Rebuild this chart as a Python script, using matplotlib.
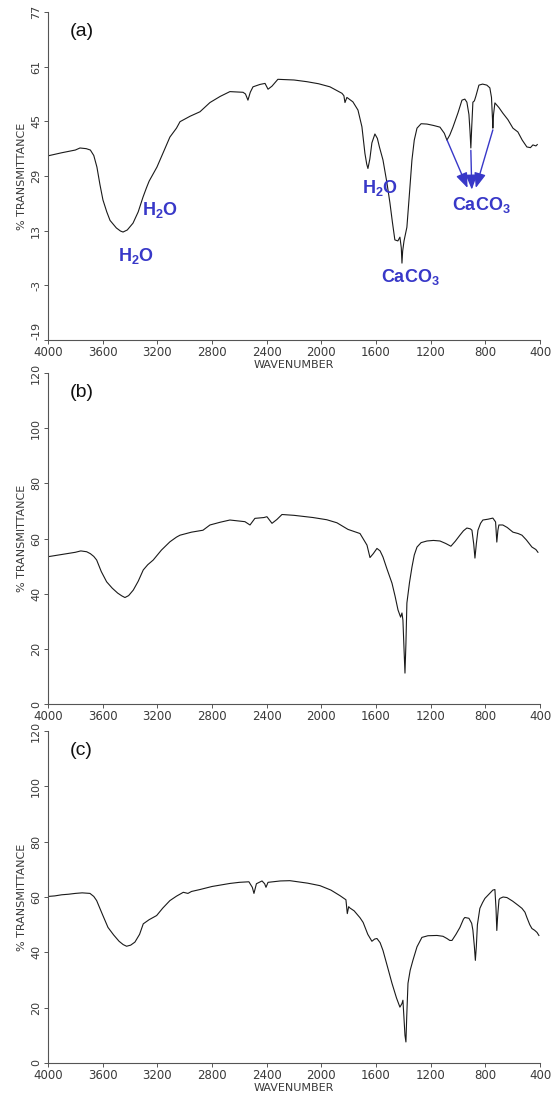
import matplotlib
matplotlib.use("Agg")
import matplotlib.pyplot as plt

# ---------------- data ----------------
wn_a = [4000, 3900, 3800, 3766, 3720, 3690, 3665, 3642, 3620, 3598, 3570, 3546, 3500, 3470, 3451,
        3420, 3378, 3340, 3305, 3280, 3260, 3203, 3150, 3108, 3060, 3034, 2960, 2888, 2815, 2740,
        2669, 2573, 2555, 2537, 2520, 2500, 2449, 2412, 2390, 2361, 2318, 2200, 2105, 2020, 1937,
        1849, 1835, 1827, 1813, 1769, 1732, 1703, 1681, 1668, 1659, 1645, 1630, 1608, 1590, 1575,
        1549, 1520, 1498, 1480, 1462, 1440, 1425, 1415, 1410, 1405, 1395, 1374, 1355, 1337, 1320,
        1300, 1270, 1227, 1180, 1132, 1100, 1081, 1060, 1037, 1000, 971, 950, 935, 920, 912,
        906, 900, 891, 880, 869, 847, 820, 789, 767, 755, 748, 745, 740, 730, 700,
        672, 635, 598, 562, 530, 496, 470, 452, 430, 420]
t_a = [34.9, 35.8, 36.6, 37.2, 37.0, 36.6, 35.0, 31.6, 26.5, 22.0, 18.5, 16.0, 13.8, 12.9, 12.6,
       13.2, 15.2, 18.5, 22.8, 25.5, 27.5, 31.6, 36.5, 40.4, 43.0, 44.9, 46.5, 47.8, 50.5, 52.3,
       53.7, 53.5, 53.0, 51.2, 53.5, 55.1, 55.8, 56.1, 54.4, 55.3, 57.3, 57.1, 56.6, 56.0, 55.1,
       53.2, 52.5, 50.5, 52.0, 50.7, 48.3, 43.4, 35.6, 32.5, 31.2, 34.0, 38.7, 41.3, 40.0, 37.5,
       33.7, 27.0, 21.1, 15.5, 10.3, 10.0, 11.1, 8.0, 3.5, 7.0, 10.0, 14.0, 24.0, 33.7, 39.5,
       43.0, 44.3, 44.2, 43.8, 43.3, 41.5, 39.5, 41.0, 43.3, 47.5, 51.2, 51.5, 50.6, 47.0, 42.0,
       37.2, 43.0, 50.6, 51.0, 52.4, 55.6, 55.9, 55.6, 54.8, 52.0, 46.0, 43.0, 47.0, 50.4, 49.0,
       47.4, 45.5, 43.0, 41.9, 39.5, 37.5, 37.3, 38.1, 37.8, 38.2]

wn_b = [4000, 3950, 3900, 3850, 3800, 3760, 3717, 3690, 3665, 3644, 3610, 3571, 3530, 3490, 3460,
        3437, 3410, 3376, 3340, 3303, 3270, 3230, 3170, 3108, 3060, 3034, 2950, 2866, 2815, 2740,
        2669, 2559, 2522, 2486, 2420, 2398, 2361, 2325, 2288, 2200, 2061, 1960, 1886, 1805, 1717,
        1666, 1644, 1620, 1593, 1570, 1549, 1520, 1483, 1460, 1439, 1420, 1410, 1403, 1395, 1388,
        1381, 1374, 1355, 1337, 1320, 1300, 1270, 1227, 1180, 1132, 1090, 1052, 1020, 986, 960,
        935, 910, 898, 885, 876, 866, 854, 835, 818, 780, 745, 725, 716, 708, 701,
        672, 640, 598, 560, 532, 500, 459, 430, 415]
t_b = [53.4, 53.8, 54.2, 54.6, 55.0, 55.5, 55.2, 54.5, 53.5, 52.2, 48.0, 44.3, 42.0, 40.2, 39.2,
       38.6, 39.3, 41.3, 44.5, 48.6, 50.5, 52.2, 55.8, 58.8, 60.5, 61.2, 62.3, 63.0, 64.9, 65.9,
       66.7, 66.1, 64.9, 67.3, 67.6, 67.9, 65.5, 66.9, 68.7, 68.4, 67.6, 66.8, 65.7, 63.3, 61.8,
       57.6, 53.1, 54.5, 56.4, 55.5, 53.3, 49.0, 43.8, 39.0, 34.1, 31.5, 33.0, 30.4, 20.0, 11.2,
       22.0, 36.6, 44.0, 49.6, 54.0, 56.9, 58.5, 59.1, 59.3, 59.1, 58.2, 57.2, 59.0, 61.2, 62.8,
       63.8, 63.5, 63.0, 58.0, 52.9, 58.0, 63.0, 65.5, 66.7, 67.0, 67.4, 66.0, 58.7, 63.0, 64.9,
       64.9, 64.0, 62.3, 61.8, 61.2, 59.5, 56.9, 56.0, 55.0]

wn_c = [4000, 3950, 3900, 3850, 3800, 3750, 3693, 3665, 3644, 3600, 3561, 3520, 3480, 3450, 3425,
        3395, 3364, 3330, 3303, 3260, 3205, 3160, 3108, 3060, 3010, 2976, 2950, 2888, 2800, 2669,
        2600, 2530, 2505, 2493, 2475, 2434, 2415, 2405, 2390, 2300, 2230, 2100, 2010, 1930, 1864,
        1820, 1810, 1800, 1790, 1760, 1717, 1694, 1660, 1630, 1610, 1593, 1570, 1549, 1520, 1483,
        1450, 1425, 1410, 1403, 1395, 1388, 1381, 1375, 1366, 1350, 1330, 1300, 1264, 1220, 1154,
        1110, 1081, 1060, 1044, 1015, 986, 960, 950, 920, 900, 891, 880, 873, 866, 858,
        840, 820, 803, 770, 745, 730, 722, 716, 710, 700, 693, 670, 642, 600, 560,
        532, 510, 496, 475, 459, 440, 422, 408]
t_c = [60.2, 60.4, 60.8, 61.0, 61.3, 61.5, 61.3, 60.2, 58.7, 53.5, 49.0, 46.3, 44.0, 42.8, 42.2,
       42.6, 43.7, 46.5, 50.3, 51.8, 53.3, 56.0, 58.7, 60.3, 61.7, 61.3, 62.0, 62.7, 63.8, 64.9,
       65.3, 65.5, 63.5, 61.3, 64.8, 65.8, 64.8, 63.5, 65.3, 65.8, 65.9, 65.0, 64.1, 62.5, 60.5,
       59.0, 54.0, 56.5, 56.0, 55.0, 52.5, 50.8, 46.5, 44.0, 44.8, 45.0, 43.5, 40.7, 35.5, 28.8,
       23.5, 20.2, 21.5, 22.7, 16.0, 10.0, 7.6, 17.0, 28.8, 33.5, 37.1, 42.0, 45.4, 46.0, 46.1,
       45.8, 45.0, 44.3, 44.3, 46.5, 49.0, 52.0, 52.6, 52.3, 50.5, 48.0, 42.0, 37.1, 42.0, 50.0,
       55.9, 58.0, 59.5, 61.2, 62.5, 62.7, 56.0, 47.9, 53.0, 59.0, 59.5, 60.0, 59.8, 58.5, 57.0,
       55.9, 54.5, 52.6, 50.0, 48.6, 48.0, 47.2, 46.1]

x_ticks = [4000, 3600, 3200, 2800, 2400, 2000, 1600, 1200, 800, 400]
y_ticks_a = [77, 61, 45, 29, 13, -3, -19]
y_ticks_bc = [0, 20, 40, 60, 80, 100, 120]
panel_labels = ["(a)", "(b)", "(c)"]

# ---------------- style ----------------
plt.rcParams['mathtext.fontset'] = 'custom'
plt.rcParams['mathtext.rm'] = 'Liberation Sans'
plt.rcParams['mathtext.bf'] = 'Liberation Sans:bold'
TXT = '#3a3a3a'
BLUE = '#3838c8'

fig = plt.figure(figsize=(5.59, 10.97), dpi=100)
W, H = 559.0, 1097.0

def make_ax(left, top, right, bottom):
    return fig.add_axes([left / W, 1 - bottom / H, (right - left) / W, (bottom - top) / H])

ax_a = make_ax(48, 12, 540, 340)
ax_b = make_ax(48, 373, 540, 704)
ax_c = make_ax(48, 731, 540, 1063)

panels = [(ax_a, wn_a, t_a, y_ticks_a, (-19, 77)),
          (ax_b, wn_b, t_b, y_ticks_bc, (0, 120)),
          (ax_c, wn_c, t_c, y_ticks_bc, (0, 120))]

for i, (ax, wn, t, yt, yl) in enumerate(panels):
    ax.plot(wn, t, color='#1a1a1a', lw=0.8)
    ax.set_xlim(4000, 400)
    ax.set_ylim(*yl)
    ax.set_xticks(x_ticks)
    ax.set_yticks(yt)
    ax.set_xticklabels([str(v) for v in x_ticks])
    ylabs = ax.set_yticklabels([str(v) for v in yt], rotation=90, va='center')
    if i == 0:
        ylabs[-1].set_va('bottom')
    for s in ['top', 'right']:
        ax.spines[s].set_visible(False)
    for s in ['left', 'bottom']:
        ax.spines[s].set_color('#555555')
        ax.spines[s].set_linewidth(0.8)
    ax.tick_params(axis='x', direction='out', length=3, width=0.7, colors='#555555',
                   labelcolor=TXT, labelsize=8.5, pad=1)
    ax.tick_params(axis='y', direction='out', length=3, width=0.7, colors='#555555',
                   labelcolor=TXT, labelsize=8, pad=2)
    ax.set_ylabel('% TRANSMITTANCE', fontsize=8, color=TXT, labelpad=3)
    if i != 1:
        ax.set_xlabel('WAVENUMBER', fontsize=8, color=TXT, labelpad=1)
    ax.text(0.045, 0.94, panel_labels[i], transform=ax.transAxes, fontsize=14,
            family='Liberation Sans', color='#111111', va='center', ha='left')

# ---------------- annotations on (a) ----------------
ann = dict(fontsize=13, color=BLUE, family='Liberation Sans', ha='center', va='center')
ax_a.text(3180, 19, r'$\mathbf{H_2O}$', **ann)
ax_a.text(3360, 5.5, r'$\mathbf{H_2O}$', **ann)
ax_a.text(1570, 25.5, r'$\mathbf{H_2O}$', **ann)
ax_a.text(1345, -0.5, r'$\mathbf{CaCO_3}$', **ann)
ax_a.text(830, 20.5, r'$\mathbf{CaCO_3}$', **ann)

arrow_starts = [(1080, 39.5), (906, 36.5), (745, 42.5)]
arrow_end = [(930, 25.5), (899, 25.0), (870, 25.5)]
for (sx, sy), (ex, ey) in zip(arrow_starts, arrow_end):
    ax_a.annotate('', xy=(ex, ey), xytext=(sx, sy),
                  arrowprops=dict(arrowstyle='-|>,head_length=0.9,head_width=0.35',
                                  color=BLUE, lw=1.0, shrinkA=0, shrinkB=0))

fig.savefig('out.png', dpi=100, facecolor='white')
